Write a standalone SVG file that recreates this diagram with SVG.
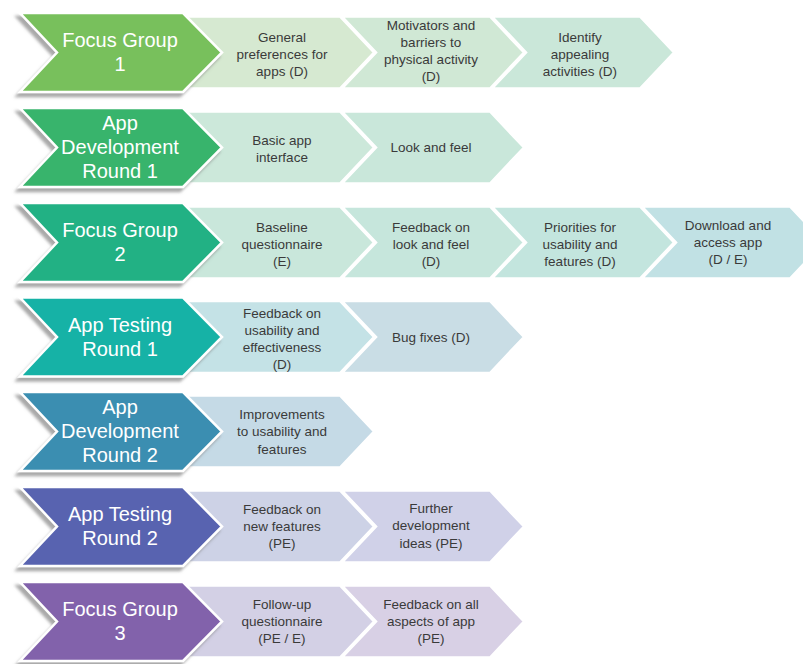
<svg xmlns="http://www.w3.org/2000/svg" width="803" height="664" viewBox="0 0 803 664">
<defs>
<filter id="sh" x="-10%" y="-10%" width="125%" height="130%">
<feDropShadow dx="-3" dy="4" stdDeviation="1.6" flood-color="#7a7a7a" flood-opacity="0.65"/>
</filter>
<polygon id="main" points="20,0 183,0 222,39.5 183,79 20,79 57,39.5"/>
<polygon id="first" points="185,3.5 340,3.5 374,39.5 340,75.5 185,75.5"/>
<polygon id="step" points="0,3.5 148,3.5 182,39.5 148,75.5 0,75.5 34,39.5"/>
</defs>
<style>
.m{stroke:#fff;stroke-width:2.5;stroke-linejoin:miter;filter:url(#sh)}
.s{stroke:#fff;stroke-width:2.5;stroke-linejoin:miter}
.mt{font-family:"Liberation Sans",Arial,sans-serif;font-size:20px;fill:#fff;text-anchor:middle}
.st{font-family:"Liberation Sans",Arial,sans-serif;font-size:13.5px;fill:#3a3a3a;text-anchor:middle}
</style>
<rect width="803" height="664" fill="#fff"/>

<!-- Row 1 -->
<g id="row1" transform="translate(0,13)">
<use href="#first" class="s" fill="#d6e9d1"/>
<use href="#step" class="s" fill="#d0e8d5" x="342"/>
<use href="#step" class="s" fill="#cae7d9" x="492"/>
<g id="focus-group-1"><use href="#main" class="m" fill="#78c05c"/>
<text class="mt"><tspan x="120" y="34">Focus Group</tspan><tspan x="120" y="58">1</tspan></text></g>
<g id="general-preferences"><text class="st"><tspan x="282" y="28.5">General</tspan><tspan x="282" y="45.5">preferences for</tspan><tspan x="282" y="62.5">apps (D)</tspan></text></g>
<g id="motivators"><text class="st"><tspan x="431" y="16.5">Motivators and</tspan><tspan x="431" y="33.5">barriers to</tspan><tspan x="431" y="50.5">physical activity</tspan><tspan x="431" y="67.5">(D)</tspan></text></g>
<g id="identify"><text class="st"><tspan x="580" y="28.5">Identify</tspan><tspan x="580" y="45.5">appealing</tspan><tspan x="580" y="62.5">activities (D)</tspan></text></g>
</g>

<!-- Row 2 -->
<g id="row2" transform="translate(0,108)">
<use href="#first" class="s" fill="#cce8da"/>
<use href="#step" class="s" fill="#c9e7da" x="342"/>
<g id="app-dev-1"><use href="#main" class="m" fill="#38b46c"/>
<text class="mt"><tspan x="120" y="22">App</tspan><tspan x="120" y="46">Development</tspan><tspan x="120" y="70">Round 1</tspan></text></g>
<g id="basic-app"><text class="st"><tspan x="282" y="37">Basic app</tspan><tspan x="282" y="54">interface</tspan></text></g>
<g id="look-feel"><text class="st"><tspan x="431" y="44">Look and feel</tspan></text></g>
</g>

<!-- Row 3 -->
<g id="row3" transform="translate(0,203)">
<use href="#first" class="s" fill="#c9e7db"/>
<use href="#step" class="s" fill="#c6e6dc" x="342"/>
<use href="#step" class="s" fill="#c3e5de" x="492"/>
<use href="#step" class="s" fill="#c1e1e4" x="642"/>
<g id="focus-group-2"><use href="#main" class="m" fill="#22b184"/>
<text class="mt"><tspan x="120" y="34">Focus Group</tspan><tspan x="120" y="58">2</tspan></text></g>
<g id="baseline"><text class="st"><tspan x="282" y="28.5">Baseline</tspan><tspan x="282" y="45.5">questionnaire</tspan><tspan x="282" y="62.5">(E)</tspan></text></g>
<g id="feedback-look"><text class="st"><tspan x="431" y="28.5">Feedback on</tspan><tspan x="431" y="45.5">look and feel</tspan><tspan x="431" y="62.5">(D)</tspan></text></g>
<g id="priorities"><text class="st"><tspan x="580" y="28.5">Priorities for</tspan><tspan x="580" y="45.5">usability and</tspan><tspan x="580" y="62.5">features (D)</tspan></text></g>
<g id="download"><text class="st"><tspan x="728" y="27">Download and</tspan><tspan x="728" y="44">access app</tspan><tspan x="728" y="61">(D / E)</tspan></text></g>
</g>

<!-- Row 4 -->
<g id="row4" transform="translate(0,297.5)">
<use href="#first" class="s" fill="#c4e2e6"/>
<use href="#step" class="s" fill="#c9dde5" x="342"/>
<g id="app-testing-1"><use href="#main" class="m" fill="#17b2a6"/>
<text class="mt"><tspan x="120" y="34">App Testing</tspan><tspan x="120" y="58">Round 1</tspan></text></g>
<g id="feedback-usability"><text class="st"><tspan x="282" y="20">Feedback on</tspan><tspan x="282" y="37">usability and</tspan><tspan x="282" y="54">effectiveness</tspan><tspan x="282" y="71">(D)</tspan></text></g>
<g id="bug-fixes"><text class="st"><tspan x="431" y="44">Bug fixes (D)</tspan></text></g>
</g>

<!-- Row 5 -->
<g id="row5" transform="translate(0,392)">
<use href="#first" class="s" fill="#c5dae6"/>
<g id="app-dev-2"><use href="#main" class="m" fill="#3a8eb1"/>
<text class="mt"><tspan x="120" y="22">App</tspan><tspan x="120" y="46">Development</tspan><tspan x="120" y="70">Round 2</tspan></text></g>
<g id="improvements"><text class="st"><tspan x="282" y="26.5">Improvements</tspan><tspan x="282" y="44">to usability and</tspan><tspan x="282" y="61.5">features</tspan></text></g>
</g>

<!-- Row 6 -->
<g id="row6" transform="translate(0,487)">
<use href="#first" class="s" fill="#cdd2e6"/>
<use href="#step" class="s" fill="#d0d1e8" x="342"/>
<g id="app-testing-2"><use href="#main" class="m" fill="#5864b0"/>
<text class="mt"><tspan x="120" y="34">App Testing</tspan><tspan x="120" y="58">Round 2</tspan></text></g>
<g id="feedback-new"><text class="st"><tspan x="282" y="26.5">Feedback on</tspan><tspan x="282" y="43.5">new features</tspan><tspan x="282" y="60.5">(PE)</tspan></text></g>
<g id="further-dev"><text class="st"><tspan x="431" y="26">Further</tspan><tspan x="431" y="43">development</tspan><tspan x="431" y="60.5">ideas (PE)</tspan></text></g>
</g>

<!-- Row 7 -->
<g id="row7" transform="translate(0,582)">
<use href="#first" class="s" fill="#d3d0e5"/>
<use href="#step" class="s" fill="#d8d0e5" x="342"/>
<g id="focus-group-3"><use href="#main" class="m" fill="#8262ab"/>
<text class="mt"><tspan x="120" y="34">Focus Group</tspan><tspan x="120" y="58">3</tspan></text></g>
<g id="follow-up"><text class="st"><tspan x="282" y="26.5">Follow-up</tspan><tspan x="282" y="43.5">questionnaire</tspan><tspan x="282" y="60.5">(PE / E)</tspan></text></g>
<g id="feedback-all"><text class="st"><tspan x="431" y="26.5">Feedback on all</tspan><tspan x="431" y="43.5">aspects of app</tspan><tspan x="431" y="60.5">(PE)</tspan></text></g>
</g>

<g id="connectors"/>
</svg>
